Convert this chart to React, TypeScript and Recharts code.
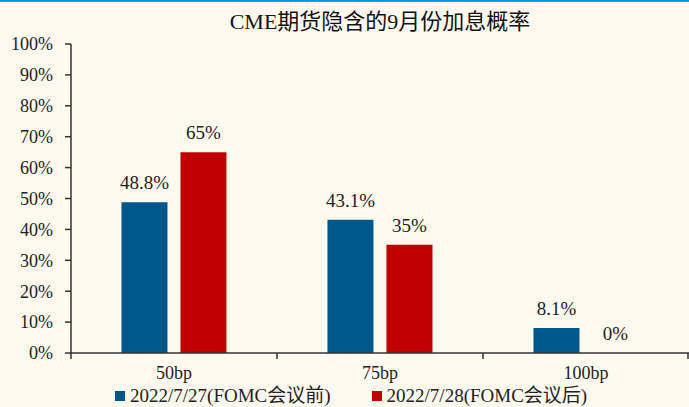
import { BarChart, Bar, XAxis, YAxis, LabelList } from 'recharts';

document.body.style.margin = '0';

const categories = ['50bp', '75bp', '100bp'];
const before = [48.8, 43.1, 8.1];
const after = [65, 35, 0];
const yTicks = [0, 10, 20, 30, 40, 50, 60, 70, 80, 90, 100];
const seriesNames = ['2022/7/27(FOMC会议前)', '2022/7/28(FOMC会议后)'];
const seriesColors = ['#00578A', '#C00000'];

const data = categories.map((name, i) => ({ name, before: before[i], after: after[i] }));

const FONT = '"Times New Roman", "Liberation Serif", "Noto Sans CJK SC", serif';
const AXIS = '#333';

const BAND = (689 - 71) / 3;

// zero-height bars get dropped (and their labels with them), so keep a hairline one
const keepZero = (v: any) => (v === 0 ? 0.01 : 0);

const XTick = (props: any) => {
  const { x, y, payload, index } = props;
  return (
    <g>
      <line x1={x - BAND / 2} y1={y - 8} x2={x - BAND / 2} y2={y - 2} stroke={AXIS} strokeWidth={1.5} />
      {index === categories.length - 1 && (
        <line x1={x + BAND / 2 - 1} y1={y - 8} x2={x + BAND / 2 - 1} y2={y - 2} stroke={AXIS} strokeWidth={1.5} />
      )}
      <text x={x} y={y + 18} textAnchor="middle" fill="#222" fontSize={18} fontFamily={FONT}>
        {payload.value}
      </text>
    </g>
  );
};

const ValueLabel = (props: any) => {
  const { x, y, width, value } = props;
  if (value === undefined || value === null) return null;
  return (
    <text x={x + width / 2} y={y - 13} textAnchor="middle" fill="#222" fontSize={19} fontFamily={FONT}>
      {`${value}%`}
    </text>
  );
};

export default function App() {
  return (
    <div style={{ position: 'relative', width: 689, height: 407, background: '#FEFAF0', fontFamily: FONT, overflow: 'hidden' }}>
      <div style={{ position: 'absolute', top: 0, left: 0, width: 689, height: 2, background: '#00A0E9' }} />
      <div style={{ position: 'absolute', top: 7, left: 71, right: 0, textAlign: 'center', fontSize: 22, color: '#111', lineHeight: '30px' }}>
        CME期货隐含的9月份加息概率
      </div>
      <BarChart
        width={689}
        height={407}
        data={data}
        margin={{ top: 44, right: 0, left: 0, bottom: 0 }}
        barCategoryGap="24.5%"
        barGap={13}
        style={{ position: 'absolute', top: 0, left: 0 }}
      >
        <XAxis
          dataKey="name"
          axisLine={{ stroke: AXIS, strokeWidth: 1.5 }}
          tickLine={false}
          tick={<XTick />}
          interval={0}
          height={54}
        />
        <YAxis
          width={71}
          domain={[0, 100]}
          ticks={yTicks}
          interval={0}
          tickFormatter={(v) => `${v}%`}
          axisLine={{ stroke: AXIS, strokeWidth: 1.5 }}
          tickLine={{ stroke: AXIS, strokeWidth: 1.5 }}
          tickSize={6}
          tickMargin={12}
          tick={{ fill: '#222', fontSize: 18, fontFamily: FONT }}
        />
        <Bar dataKey="before" name={seriesNames[0]} fill={seriesColors[0]} isAnimationActive={false} minPointSize={keepZero}>
          <LabelList dataKey="before" content={<ValueLabel />} />
        </Bar>
        <Bar dataKey="after" name={seriesNames[1]} fill={seriesColors[1]} isAnimationActive={false} minPointSize={keepZero}>
          <LabelList dataKey="after" content={<ValueLabel />} />
        </Bar>
      </BarChart>
      <div style={{ position: 'absolute', top: 385, left: 115, display: 'flex', alignItems: 'center', fontSize: 19, color: '#222', lineHeight: '21px', whiteSpace: 'nowrap' }}>
        {seriesNames.map((n, i) => (
          <span key={n} style={{ display: 'flex', alignItems: 'center', marginRight: 41 }}>
            <span style={{ display: 'inline-block', width: 10, height: 10, background: seriesColors[i], marginRight: 5 }} />
            {n}
          </span>
        ))}
      </div>
    </div>
  );
}
